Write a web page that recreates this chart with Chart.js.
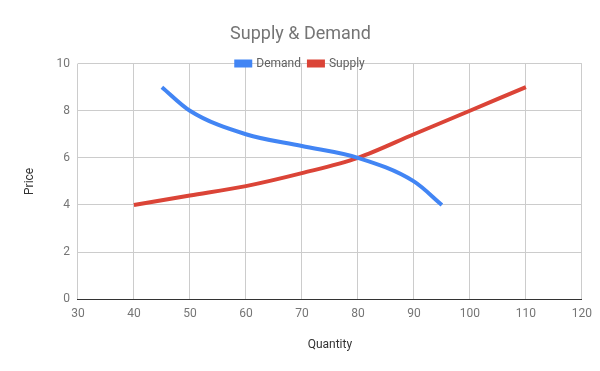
<!DOCTYPE html>
<html>
<head>
<meta charset="utf-8">
<script src="https://cdn.jsdelivr.net/npm/chart.js@4/dist/chart.umd.min.js"></script>
<style>
  html, body { margin: 0; padding: 0; background: #fff; }
  #wrap { width: 600px; height: 371px; }
</style>
</head>
<body>
<div id="wrap"><canvas id="mycanvas"></canvas></div>
<script>
var demandQty = [45, 50, 60, 70, 80, 90, 95];
var demandPrice = [9, 8, 7, 6.5, 6, 5, 4];
var supplyQty = [40, 50, 60, 70, 80, 90, 100, 110];
var supplyPrice = [4, 4.4, 4.8, 5.35, 6, 7, 8, 9];
var xTicks = [30, 40, 50, 60, 70, 80, 90, 100, 110, 120];
var yTicks = [0, 2, 4, 6, 8, 10];

function toPoints(xs, ys) {
  var pts = [];
  for (var i in xs) {
    pts.push({ x: xs[i], y: ys[i] });
  }
  return pts;
}

// let the legend sit on the top gridline like the original
var SHRINK = 16;
var tightLegend = {
  id: 'tightLegend',
  beforeInit: function(chart) {
    var fit = chart.legend.fit;
    chart.legend.fit = function() {
      fit.bind(chart.legend)();
      this.height -= SHRINK;
    };
  },
  afterLayout: function(chart) {
    // give the box its height back so the labels are not clipped
    chart.legend.bottom += SHRINK;
    chart.legend.height += SHRINK;
  }
};

var ctx = document.getElementById('mycanvas');

new Chart(ctx, {
  type: 'line',
  data: {
    datasets: [
      {
        label: 'Demand',
        data: toPoints(demandQty, demandPrice),
        borderColor: '#4285f4',
        backgroundColor: '#4285f4',
        borderWidth: 4,
        pointRadius: 0,
        tension: 0.4,
        cubicInterpolationMode: 'monotone',
        fill: false
      },
      {
        label: 'Supply',
        data: toPoints(supplyQty, supplyPrice),
        borderColor: '#db4437',
        backgroundColor: '#db4437',
        borderWidth: 4,
        pointRadius: 0,
        tension: 0.4,
        cubicInterpolationMode: 'monotone',
        fill: false
      }
    ]
  },
  plugins: [tightLegend],
  options: {
    responsive: true,
    maintainAspectRatio: false,
    animation: { duration: 0 },
    layout: { padding: { top: 20, right: 18, left: 19, bottom: 15 } },
    plugins: {
      title: {
        display: true,
        text: 'Supply & Demand',
        color: '#757575',
        font: { family: 'Roboto', size: 18, weight: 'normal' },
        padding: { top: 4, bottom: 4 }
      },
      legend: {
        position: 'top',
        labels: {
          color: '#616161',
          font: { family: 'Roboto', size: 12 },
          boxWidth: 14,
          boxHeight: 4,
          padding: 8
        }
      },
      tooltip: { enabled: false }
    },
    scales: {
      x: {
        type: 'linear',
        min: 30,
        max: 120,
        afterBuildTicks: function(axis) {
          axis.ticks = xTicks.map(function(v) { return { value: v }; });
        },
        grid: { color: '#cccccc', drawTicks: false },
        border: { color: '#333333', width: 1 },
        ticks: {
          color: '#757575',
          font: { family: 'Roboto', size: 12 },
          padding: 8,
          maxRotation: 0
        },
        title: {
          display: true,
          text: 'Quantity',
          color: '#333333',
          font: { family: 'Roboto', size: 12 },
          padding: { top: 8 }
        }
      },
      y: {
        min: 0,
        max: 10,
        afterBuildTicks: function(axis) {
          axis.ticks = yTicks.map(function(v) { return { value: v }; });
        },
        grid: { color: '#cccccc', drawTicks: false },
        border: { display: false },
        ticks: {
          color: '#757575',
          font: { family: 'Roboto', size: 12 },
          padding: 8
        },
        title: {
          display: true,
          text: 'Price',
          color: '#333333',
          font: { family: 'Roboto', size: 12 },
          padding: { bottom: 11 }
        }
      }
    }
  }
});
</script>
</body>
</html>
